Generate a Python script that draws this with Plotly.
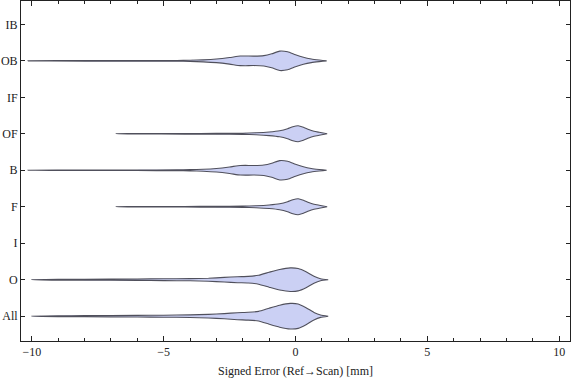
import plotly.graph_objects as go

# Categories bottom to top
categories = ["All", "O", "I", "F", "B", "OF", "IF", "OB", "IB"]

# Estimated density profiles (signed error [mm] -> relative density, arbitrary units)
all_x = [-10.0, -9.0, -8.0, -6.0, -5.0, -4.0, -3.3, -2.7, -2.2, -1.8, -1.4, -1.0, -0.6, -0.2, 0.1, 0.4, 0.7, 0.95, 1.24]
all_d = [0.0, 0.4, 0.6, 0.8, 1.0, 1.3, 1.8, 2.6, 3.5, 3.9, 4.8, 8.0, 11.0, 12.8, 12.2, 8.5, 3.8, 1.2, 0.0]

o_x = [-10.0, -9.0, -8.0, -6.0, -5.0, -4.0, -3.3, -2.7, -2.2, -1.8, -1.4, -1.0, -0.6, -0.2, 0.1, 0.4, 0.7, 0.95, 1.24]
o_d = [0.0, 0.4, 0.5, 0.7, 0.9, 1.1, 1.5, 2.3, 3.0, 3.3, 4.5, 7.5, 10.3, 11.8, 11.2, 8.0, 3.5, 1.0, 0.0]

f_x = [-6.8, -6.0, -4.2, -3.0, -2.0, -1.5, -1.0, -0.6, -0.3, -0.1, 0.1, 0.3, 0.5, 0.7, 0.9, 1.2]
f_d = [0.0, 0.2, 0.3, 0.4, 0.6, 1.0, 1.8, 3.0, 5.0, 7.0, 8.0, 6.5, 4.2, 2.5, 1.5, 0.0]

b_x = [-10.15, -8.0, -6.0, -4.5, -4.0, -3.5, -3.0, -2.5, -2.1, -1.9, -1.6, -1.2, -0.9, -0.6, -0.3, 0.0, 0.3, 0.6, 0.9, 1.18]
b_d = [0.0, 0.3, 0.3, 0.4, 0.6, 1.0, 1.8, 3.3, 4.8, 4.9, 4.7, 5.2, 7.0, 9.7, 9.0, 6.0, 3.5, 1.8, 0.8, 0.0]

of_x = f_x
of_d = f_d
ob_x = b_x
ob_d = b_d

series = {
    "All": (all_x, all_d),
    "O": (o_x, o_d),
    "F": (f_x, f_d),
    "B": (b_x, b_d),
    "OF": (of_x, of_d),
    "OB": (ob_x, ob_d),
}

DENSITY_SCALE = 1 / 36.5  # density units -> category spacing

FILL = "rgb(203,208,244)"
EDGE = "rgb(80,80,92)"

fig = go.Figure()
for cat, (xs, ds) in series.items():
    yc = categories.index(cat) + 1
    up = [yc + d * DENSITY_SCALE for d in ds]
    dn = [yc - d * DENSITY_SCALE for d in ds]
    fig.add_trace(go.Scatter(
        x=list(xs) + list(xs)[::-1],
        y=up + dn[::-1],
        mode="lines",
        fill="toself",
        fillcolor=FILL,
        line=dict(color=EDGE, width=1.1, shape="spline", smoothing=0.5),
        hoverinfo="skip",
        showlegend=False,
    ))

serif = "Liberation Serif, DejaVu Serif, Times New Roman, serif"
axis_font = dict(family=serif, size=12, color="#222")

fig.update_layout(
    width=576, height=381,
    margin=dict(l=21, r=6, t=1, b=40),
    paper_bgcolor="white", plot_bgcolor="white",
    font=axis_font,
    showlegend=False,
)
fig.update_xaxes(
    range=[-10.41, 10.41],
    tickvals=[-10, -5, 0, 5, 10],
    ticks="inside", ticklen=5, tickcolor="#222",
    minor=dict(dtick=1, tick0=0, ticks="inside", ticklen=3, tickcolor="#222"),
    showline=True, linecolor="#222", linewidth=1, mirror="allticks",
    showgrid=False, zeroline=False,
    tickfont=axis_font,
    title=dict(text="Signed Error (Ref\u2192Scan) [mm]",
               font=dict(family=serif, size=12, color="#222"),
               standoff=8),
)
fig.update_yaxes(
    range=[0.32, 9.64],
    tickvals=list(range(1, len(categories) + 1)),
    ticktext=categories,
    ticks="inside", ticklen=4, tickcolor="#222",
    showline=True, linecolor="#222", linewidth=1, mirror="allticks",
    showgrid=False, zeroline=False,
    tickfont=axis_font,
)

fig.write_html(
    "out.html",
    config={"displayModeBar": False},
    post_script="document.body.style.margin='0';document.body.style.overflow='hidden';",
)
